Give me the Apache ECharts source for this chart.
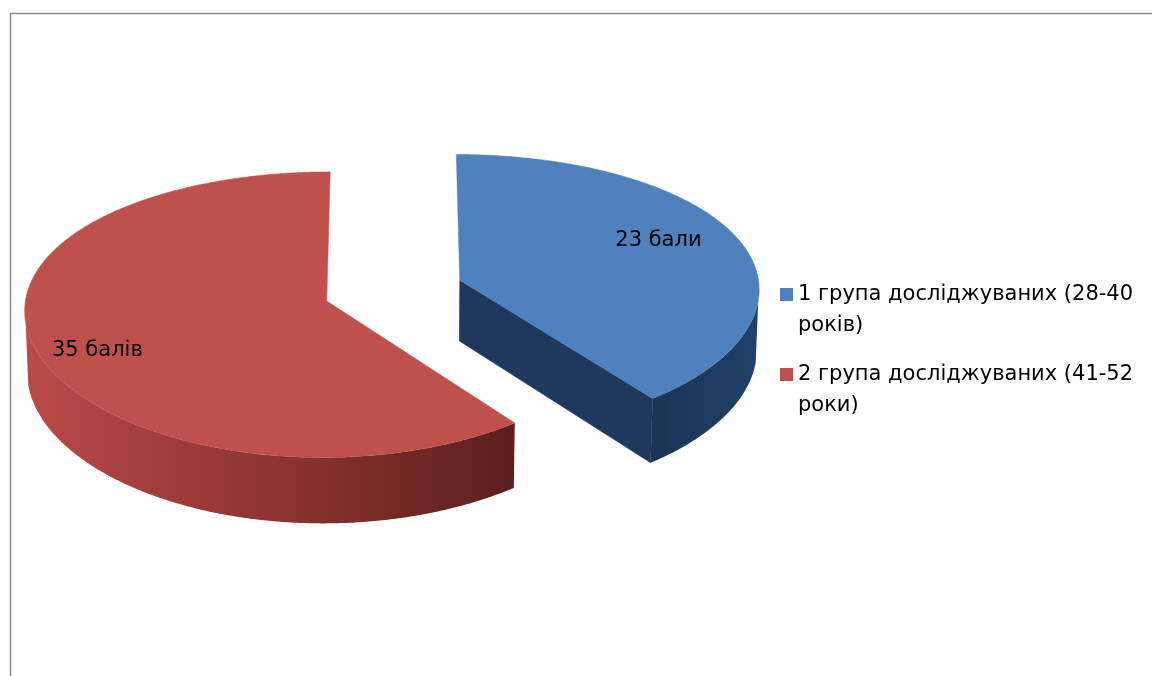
<!DOCTYPE html>
<html>
<head>
<meta charset="utf-8">
<script src="https://cdn.jsdelivr.net/npm/echarts@6/dist/echarts.min.js"></script>
<style>
  html, body { margin: 0; padding: 0; background: #ffffff; }
  #chart { width: 1152px; height: 676px; }
</style>
</head>
<body>
<div id="chart"></div>
<script>
// ---- data ----
const categories = [
  '1 група досліджуваних (28-40 років)',
  '2 група досліджуваних (41-52 роки)'
];
const values = [23, 35];
const valueLabels = ['23 бали', '35 балів'];

// ---- styling ----
const FONT = '"DejaVu Sans", "Noto Sans", sans-serif';
const FONT_SIZE = 21;
const topColors = ['#4F81BD', '#C0504D'];
const cutColors = ['#1F395C', '#7A2A28'];
const wallColors = [
  ['#1C3455', '#22406A'],
  ['#BA4A47', '#8E3331', '#5B1F1D']
];

// ---- 3D view of the pie (unit radius, tilted disc with perspective) ----
const VIEW = {
  sinA: 0.465, cosA: 0.885,  // tilt of the disc
  dist: 9.3,                 // camera distance in radii
  hAtt: 0.6,                 // horizontal share of the perspective
  thick: 0.233,              // disc thickness
  explode: 0.234             // radial offset of every slice
};
// label anchor inside each slice: fraction of its sweep, radius
const labelPlace = [
  { frac: 0.466, r: 0.741 },
  { frac: 0.473, r: 0.815 }
];

const total = values.reduce((a, b) => a + b, 0);
const startAngles = [];
const endAngles = [];
let acc = 0;
values.forEach(v => {
  startAngles.push(acc / total * 360);
  acc += v;
  endAngles.push(acc / total * 360);
});

const rad = d => d * Math.PI / 180;
// world: X right, Y up, Z away from viewer; angles clockwise from 12 o'clock
function project(X, Y, Z) {
  const w = Z * VIEW.cosA - Y * VIEW.sinA;
  const s = VIEW.dist / (VIEW.dist + w);
  const sh = 1 + (s - 1) * VIEW.hAtt;
  return [X * sh, (Z * VIEW.sinA + Y * VIEW.cosA) * s];
}
const camera = [0, VIEW.dist * VIEW.sinA, -VIEW.dist * VIEW.cosA];
// cosine between a face normal and the direction to the camera
function facing(n, p) {
  const v = [camera[0] - p[0], camera[1] - p[1], camera[2] - p[2]];
  const len = Math.hypot(v[0], v[1], v[2]);
  return (n[0] * v[0] + n[1] * v[1] + n[2] * v[2]) / len;
}

function renderSlice(i, api) {
  const a0 = startAngles[i], a1 = endAngles[i];
  const mid = rad((a0 + a1) / 2);
  const ex = VIEW.explode * Math.sin(mid);
  const ez = VIEW.explode * Math.cos(mid);
  const h = VIEW.thick;
  const pt = (deg, r, y) => api.coord(project(ex + r * Math.sin(rad(deg)), y, ez + r * Math.cos(rad(deg))));
  const children = [];

  // flat cut faces along the two radii (edge-on ones are skipped)
  [[a0, -1], [a1, 1]].forEach(([deg, dir]) => {
    const t = rad(deg);
    const n = [dir * Math.cos(t), 0, -dir * Math.sin(t)];
    const p = [ex + 0.5 * Math.sin(t), -h / 2, ez + 0.5 * Math.cos(t)];
    if (facing(n, p) < 0.1) return;
    children.push({
      type: 'polygon',
      shape: { points: [pt(deg, 0, 0), pt(deg, 1, 0), pt(deg, 1, -h), pt(deg, 0, -h)] },
      style: { fill: cutColors[i], stroke: cutColors[i], lineWidth: 0.5 }
    });
  });

  // outer wall, only the part turned towards the viewer
  const vis = [];
  for (let d = a0; d <= a1 + 1e-9; d += 0.25) {
    const t = rad(d);
    const n = [Math.sin(t), 0, Math.cos(t)];
    const p = [ex + Math.sin(t), -h / 2, ez + Math.cos(t)];
    if (facing(n, p) > 0) vis.push(d);
  }
  if (vis.length > 1) {
    const w0 = vis[0], w1 = vis[vis.length - 1];
    const topArc = [], botArc = [];
    for (let d = w0; d <= w1 + 1e-9; d += 0.5) {
      topArc.push(pt(d, 1, 0));
      botArc.push(pt(d, 1, -h));
    }
    topArc.push(pt(w1, 1, 0));
    botArc.push(pt(w1, 1, -h));
    const stops = wallColors[i].map((c, k, arr) => ({ offset: k / (arr.length - 1), color: c }));
    children.push({
      type: 'polygon',
      shape: { points: topArc.concat(botArc.reverse()) },
      style: {
        fill: new echarts.graphic.LinearGradient(0, 0, 1, 0, stops),
        stroke: null
      }
    });
  }

  // top face
  const topPts = [pt(a0, 0, 0)];
  for (let d = a0; d <= a1 + 1e-9; d += 0.5) topPts.push(pt(d, 1, 0));
  topPts.push(pt(a1, 1, 0));
  children.push({
    type: 'polygon',
    shape: { points: topPts },
    style: { fill: topColors[i], stroke: topColors[i], lineWidth: 0.5 }
  });

  // value label on the top face
  const lp = labelPlace[i];
  const la = a0 + (a1 - a0) * lp.frac;
  const lpos = pt(la, lp.r, 0);
  children.push({
    type: 'text',
    x: lpos[0], y: lpos[1],
    style: {
      text: valueLabels[i],
      fill: '#000000',
      font: FONT_SIZE + 'px ' + FONT,
      align: 'center',
      verticalAlign: 'middle'
    }
  });
  return { type: 'group', children };
}

const chart = echarts.init(document.getElementById('chart'), null, { renderer: 'canvas' });
chart.setOption({
  backgroundColor: '#ffffff',
  animation: false,
  graphic: [{
    type: 'rect',
    shape: { x: 10.5, y: 13.5, width: 1160, height: 700 },
    style: { fill: null, stroke: '#8C8C8C', lineWidth: 1.5 },
    z: 0, silent: true
  }],
  grid: { left: 3.5, top: 20.5, width: 780, height: 540 },
  xAxis: { type: 'value', min: -1.3, max: 1.3, show: false },
  yAxis: { type: 'value', min: -0.9, max: 0.9, show: false },
  legend: {
    orient: 'vertical',
    left: 775,
    top: 243,
    itemWidth: 13,
    itemHeight: 13,
    itemGap: -13,
    icon: 'rect',
    data: categories.map((name, i) => ({ name, itemStyle: { color: topColors[i] } })),
    // wrap each name at its last space; the leading empty line keeps the
    // marker level with the first line of text
    formatter: name => {
      const k = name.lastIndexOf(' ');
      return ' \n' + name.slice(0, k) + '\n' + name.slice(k + 1);
    },
    textStyle: {
      fontFamily: FONT,
      fontSize: FONT_SIZE,
      color: '#000000',
      lineHeight: 31
    }
  },
  series: categories.map((name, i) => ({
    type: 'custom',
    name,
    coordinateSystem: 'cartesian2d',
    renderItem: (params, api) => renderSlice(i, api),
    data: [[0, 0]],
    itemStyle: { color: topColors[i] },
    silent: true
  }))
});
</script>
</body>
</html>
